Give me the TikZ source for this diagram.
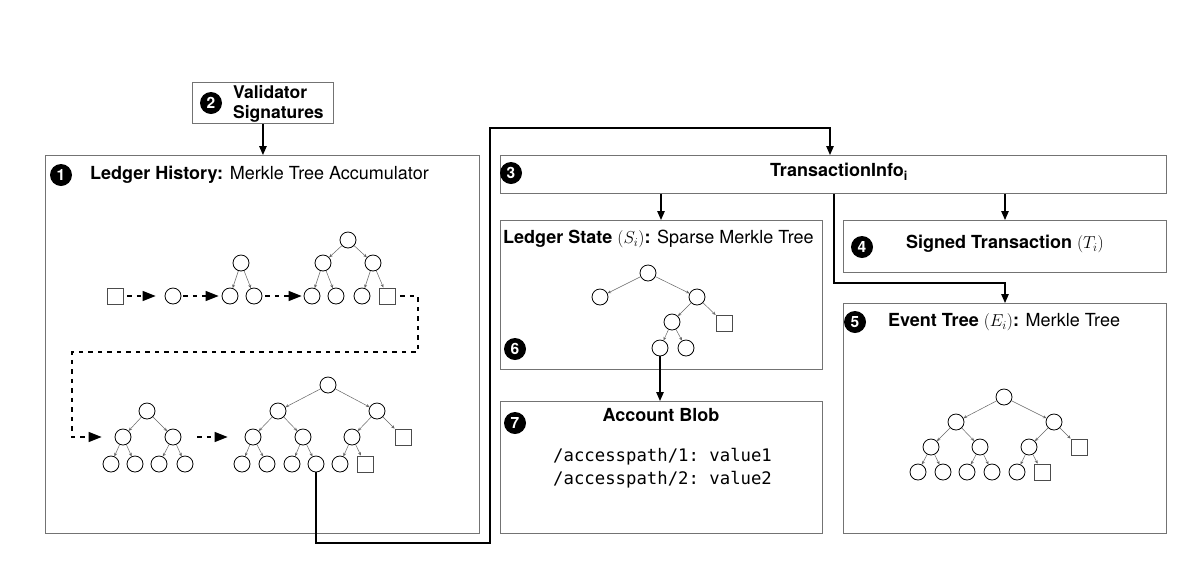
\documentclass[tikz,border=0pt]{standalone}
\usepackage{fontspec}
\setmainfont{TeX Gyre Heros}
\setmonofont{DejaVu Sans Mono}
\usetikzlibrary{arrows.meta}
\begin{document}
\begin{tikzpicture}[x=1pt,y=-1pt,
  box/.style={draw=black!55, line width=0.9pt, inner sep=0pt, anchor=north west},
  badge/.style={circle, fill=black, text=white, inner sep=0pt, minimum size=22pt, font=\fontsize{15.5}{15.5}\selectfont\bfseries},
  ttl/.style={font=\fontsize{18}{21}\selectfont, inner sep=0pt},
  nd/.style={circle, draw=black, line width=0.8pt, minimum size=16pt, inner sep=0pt},
  lf/.style={rectangle, draw=black!70, line width=0.8pt, minimum size=16pt, inner sep=0pt},
  te/.style={draw=black!60, line width=0.5pt, -{Stealth[length=3.5pt,width=3pt]}},
  da/.style={line width=1.3pt, dash pattern=on 4.5pt off 5pt, -{Triangle[length=13pt,width=10pt]}},
  cn/.style={line width=1.2pt, -{Triangle[length=9pt,width=7.5pt]}},
]
\useasboundingbox (0,0) rectangle (1200,566);
\fill[white] (0,0) rectangle (1200,566);

% ---------- boxes ----------
\node[box, minimum width=141pt, minimum height=41pt] (val) at (192,82) {};
\node[box, minimum width=434pt, minimum height=378pt] (b1) at (45,155) {};
\node[box, minimum width=666pt, minimum height=38pt] (b3) at (500,155) {};
\node[box, minimum width=322pt, minimum height=149pt] (ls) at (500,220) {};
\node[box, minimum width=322pt, minimum height=132pt] (ab) at (500,401) {};
\node[box, minimum width=323pt, minimum height=52pt] (st) at (843,220) {};
\node[box, minimum width=323pt, minimum height=230pt] (ev) at (843,303) {};

% ---------- badges ----------
\node[badge] (n1) at (61,175) {1};
\node[badge] (n2) at (211,103) {2};
\node[badge] (n3) at (511,173) {3};
\node[badge] (n4) at (862,247) {4};
\node[badge] (n5) at (855,322) {5};
\node[badge] (n6) at (515,349) {6};
\node[badge] (n7) at (515,423) {7};

% ---------- texts ----------
\node[ttl, anchor=west, align=left, font=\fontsize{17.5}{20}\selectfont\bfseries] (tval) at (233,104) {Validator\\Signatures};
\node[ttl, anchor=west] (t1) at (90,175) {\textbf{Ledger History:} Merkle Tree Accumulator};
\node[ttl] (t3) at (839,172) {\textbf{TransactionInfo\textsubscript{i}}};
\node[ttl, anchor=west] (tls) at (503,239) {\textbf{Ledger State} $(S_i)$\textbf{:} Sparse Merkle Tree};
\node[ttl] (tab) at (661,415) {\textbf{Account Blob}};
\node[ttl, anchor=west, align=left, font=\fontsize{17.3}{23}\selectfont\ttfamily] (tcode) at (553,468) {/accesspath/1: value1\\/accesspath/2: value2};
\node[ttl, anchor=west] (tst) at (906,244) {\textbf{Signed Transaction} $(T_i)$};
\node[ttl, anchor=west] (tev) at (888,322) {\textbf{Event Tree} $(E_i)$\textbf{:} Merkle Tree};

% ---------- ledger history row 1 ----------
\node[lf] (s0) at (115,296) {};
\node[nd] (c0) at (173,296) {};
\node[nd] (t2r) at (241,263) {};
\node[nd] (t2a) at (230,296) {};
\node[nd] (t2b) at (254,296) {};
\node[nd] (t3r) at (348,240) {};
\node[nd] (t3a) at (323,263) {};
\node[nd] (t3b) at (373,263) {};
\node[nd] (t3l1) at (312,296) {};
\node[nd] (t3l2) at (336,296) {};
\node[nd] (t3l3) at (362,296) {};
\node[lf] (t3s) at (387,296) {};
\draw[te] (t2r) -- (t2a);
\draw[te] (t2r) -- (t2b);
\draw[te] (t3r) -- (t3a);
\draw[te] (t3r) -- (t3b);
\draw[te] (t3a) -- (t3l1);
\draw[te] (t3a) -- (t3l2);
\draw[te] (t3b) -- (t3l3);
\draw[te] (t3b) -- (t3s);
\draw[da, shorten <=4pt, shorten >=9pt] (s0) -- (c0);
\draw[da, shorten <=2pt, shorten >=3pt] (c0) -- (t2a);
\draw[da, shorten <=3pt, shorten >=2pt] (t2b) -- (t3l1);

% ---------- ledger history row 2 ----------
\node[nd] (t4r) at (147,411) {};
\node[nd] (t4a) at (123,437) {};
\node[nd] (t4b) at (173,437) {};
\node[nd] (t4l1) at (111,464) {};
\node[nd] (t4l2) at (135,464) {};
\node[nd] (t4l3) at (159,464) {};
\node[nd] (t4l4) at (185,464) {};
\draw[te] (t4r) -- (t4a);
\draw[te] (t4r) -- (t4b);
\draw[te] (t4a) -- (t4l1);
\draw[te] (t4a) -- (t4l2);
\draw[te] (t4b) -- (t4l3);
\draw[te] (t4b) -- (t4l4);

\node[nd] (t5r) at (328,385) {};
\node[nd] (t5a) at (278,411) {};
\node[nd] (t5b) at (377,411) {};
\node[nd] (t5aa) at (253,437) {};
\node[nd] (t5ab) at (303,437) {};
\node[nd] (t5ba) at (352,437) {};
\node[lf] (t5bs) at (403,437) {};
\node[nd] (t5l1) at (242,464) {};
\node[nd] (t5l2) at (267,464) {};
\node[nd] (t5l3) at (292,464) {};
\node[nd] (t5l4) at (316,464) {};
\node[nd] (t5l5) at (340,464) {};
\node[lf] (t5ls) at (365,464) {};
\draw[te] (t5r) -- (t5a);
\draw[te] (t5r) -- (t5b);
\draw[te] (t5a) -- (t5aa);
\draw[te] (t5a) -- (t5ab);
\draw[te] (t5b) -- (t5ba);
\draw[te] (t5b) -- (t5bs);
\draw[te] (t5aa) -- (t5l1);
\draw[te] (t5aa) -- (t5l2);
\draw[te] (t5ab) -- (t5l3);
\draw[te] (t5ab) -- (t5l4);
\draw[te] (t5ba) -- (t5l5);
\draw[te] (t5ba) -- (t5ls);

\coordinate (d1) at (418,352);
\coordinate (d2) at (72,352);
\draw[da, shorten <=5pt, shorten >=13pt] (t3s.east) -| (d1) -- (d2) |- (t4a.west);
\draw[da, shorten <=16pt, shorten >=17pt] (t4b) -- (t5aa);

% ---------- ledger state tree ----------
\node[nd] (lr) at (648,273) {};
\node[nd] (la) at (600,297) {};
\node[nd] (lb) at (697,297) {};
\node[nd] (lba) at (672,322) {};
\node[lf] (lbs) at (724,323) {};
\node[nd] (lbaa) at (660,348) {};
\node[nd] (lbab) at (686,348) {};
\draw[te] (lr) -- (la);
\draw[te] (lr) -- (lb);
\draw[te] (lb) -- (lba);
\draw[te] (lb) -- (lbs);
\draw[te] (lba) -- (lbaa);
\draw[te] (lba) -- (lbab);

% ---------- event tree ----------
\node[nd] (er) at (1004,397) {};
\node[nd] (ea) at (956,422) {};
\node[nd] (eb) at (1054,422) {};
\node[nd] (eaa) at (931,447) {};
\node[nd] (eab) at (980,447) {};
\node[nd] (eba) at (1029,447) {};
\node[lf] (ebs) at (1079,447) {};
\node[nd] (el1) at (918,472) {};
\node[nd] (el2) at (943,472) {};
\node[nd] (el3) at (967,472) {};
\node[nd] (el4) at (992,472) {};
\node[nd] (el5) at (1017,472) {};
\node[lf] (els) at (1042,472) {};
\draw[te] (er) -- (ea);
\draw[te] (er) -- (eb);
\draw[te] (ea) -- (eaa);
\draw[te] (ea) -- (eab);
\draw[te] (eb) -- (eba);
\draw[te] (eb) -- (ebs);
\draw[te] (eaa) -- (el1);
\draw[te] (eaa) -- (el2);
\draw[te] (eab) -- (el3);
\draw[te] (eab) -- (el4);
\draw[te] (eba) -- (el5);
\draw[te] (eba) -- (els);

% ---------- connectors ----------
\coordinate (xls) at (661,0);
\coordinate (xst) at (1005,0);
\coordinate (k1) at (490,543);
\coordinate (k2) at (490,128);
\coordinate (k3) at (830,0);
\coordinate (k4) at (834,283);
\draw[cn] (val.south) -- (val.south |- b1.north);
\draw[cn] (t5l4.south) |- (k1) -- (k2) -| (k3 |- b3.north);
\draw[cn] (xls |- b3.south) -- (xls |- ls.north);
\draw[cn] (xst |- b3.south) -- (xst |- st.north);
\draw[cn] (k4 |- b3.south) -- (k4) -| (xst |- ev.north);
\draw[cn] (lbaa.south) -- (lbaa.south |- ab.north);
\end{tikzpicture}
\end{document}
